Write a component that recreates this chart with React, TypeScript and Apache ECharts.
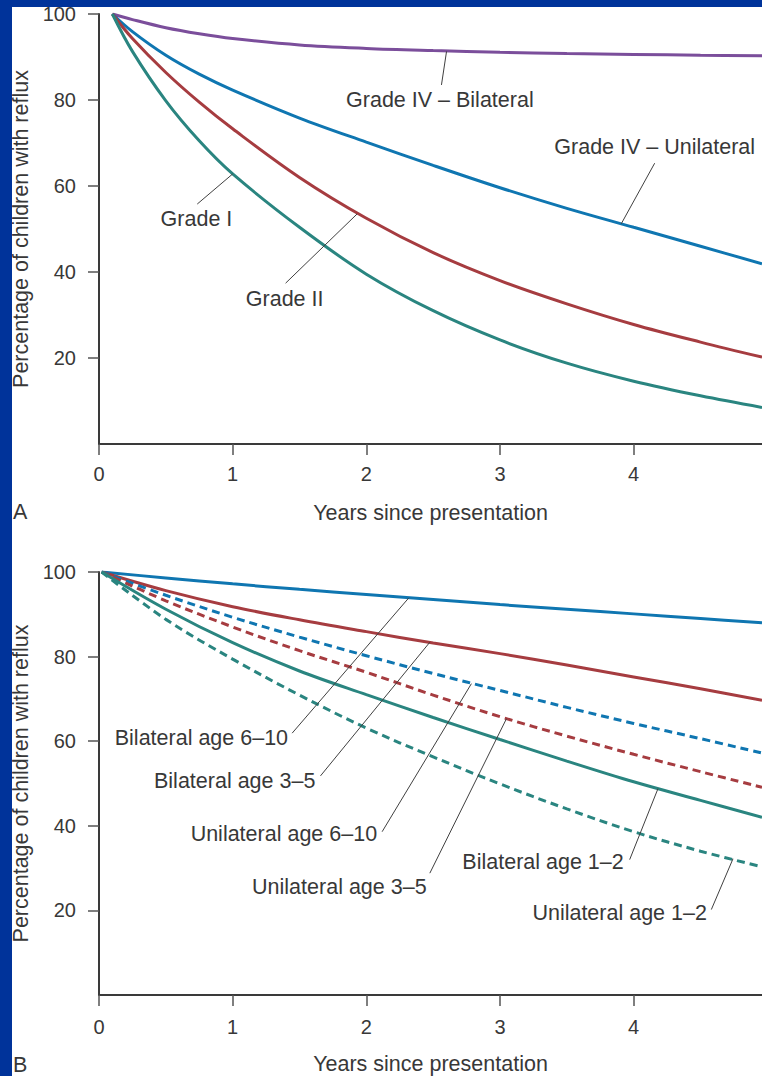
import React, { useEffect, useRef } from "react";
import * as echarts from "echarts";

// ---------- Panel A data ----------
const yearsA = [0.1, 0.25, 0.5, 0.75, 1, 1.5, 2, 2.5, 3, 3.5, 4, 4.5, 4.96];
const gradeIVBilateral = [100, 98.7, 96.8, 95.4, 94.3, 92.8, 92.0, 91.5, 91.1, 90.8, 90.6, 90.4, 90.3];
const gradeIVUnilateral = [100, 95.9, 90.4, 86.0, 82.3, 75.8, 70.2, 64.8, 59.6, 54.8, 50.4, 46.0, 41.9];
const gradeII = [100, 94.3, 86.4, 79.5, 73.3, 62.0, 52.5, 44.5, 38.0, 32.6, 27.8, 23.7, 20.2];
const gradeI = [100, 91.3, 79.8, 70.5, 62.8, 50.4, 39.5, 31.0, 24.2, 18.8, 14.6, 11.2, 8.5];

// ---------- Panel B data ----------
const yearsB = [0.02, 0.5, 1, 1.5, 2, 2.5, 3, 3.5, 4, 4.5, 4.96];
const bilateral6to10 = [100, 98.6, 97.2, 95.9, 94.7, 93.5, 92.3, 91.2, 90.1, 89.0, 88.0];
const bilateral3to5 = [100, 95.6, 91.8, 88.7, 85.9, 83.2, 80.7, 78.0, 75.2, 72.4, 69.7];
const unilateral6to10 = [100, 94.5, 89.3, 84.6, 80.2, 76.0, 72.0, 68.0, 64.2, 60.6, 57.2];
const unilateral3to5 = [100, 93.2, 87.0, 81.4, 76.3, 70.9, 65.8, 61.2, 56.9, 52.8, 49.1];
const bilateral1to2 = [100, 91.2, 83.3, 76.6, 71.0, 65.6, 60.4, 55.3, 50.4, 46.0, 42.0];
const unilateral1to2 = [100, 88.8, 79.4, 70.9, 63.1, 56.3, 49.9, 44.0, 38.6, 34.0, 30.3];

// ---------- Axes ----------
const xTickValues = [0, 1, 2, 3, 4];
const yTickValues = [20, 40, 60, 80, 100];
const xMax = 4.96;
const xAxisTitle = "Years since presentation";
const yAxisTitle = "Percentage of children with reflux";

// ---------- Annotations (data coordinates: [years, percent]) ----------
const annotationsA = [
  { text: "Grade IV \u2013 Bilateral", at: [2.55, 79.9], from: [2.562, 83.5], to: [2.6, 91.3] },
  { text: "Grade IV \u2013 Unilateral", at: [4.157, 69.1], from: [4.157, 65.3], to: [3.907, 51.2] },
  { text: "Grade I", at: [0.729, 52.3], from: [0.735, 55.8], to: [1.0, 62.8] },
  { text: "Grade II", at: [1.389, 33.7], from: [1.396, 37.4], to: [1.931, 53.5] },
];
const annotationsB = [
  { text: "Bilateral age 6\u201310", at: [0.766, 60.7], from: [1.445, 61.9], to: [2.318, 93.9] },
  { text: "Bilateral age 3\u20135", at: [1.015, 50.6], from: [1.657, 51.8], to: [2.475, 83.4] },
  { text: "Unilateral age 6\u201310", at: [1.383, 38.0], from: [2.118, 38.6], to: [2.786, 73.6] },
  { text: "Unilateral age 3\u20135", at: [1.798, 25.6], from: [2.475, 28.8], to: [3.048, 65.3] },
  { text: "Bilateral age 1\u20132", at: [3.322, 31.5], from: [3.97, 32.0], to: [4.182, 48.8] },
  { text: "Unilateral age 1\u20132", at: [3.895, 19.3], from: [4.581, 20.2], to: [4.743, 32.2] },
];

const COLORS = {
  purple: "#7b4e9b",
  blue: "#0f76b1",
  red: "#a63c40",
  teal: "#2a8580",
  frame: "#00339a",
  text: "#383838",
  axis: "#3a3a3a",
};
const FONT = "'Liberation Sans', Arial, Helvetica, sans-serif";
const LABEL_SIZE = 21.5;

const pairs = (xs: number[], ys: number[]) => xs.map((x, i) => [x, ys[i]]);

function lineSeries(name: string, idx: number, xs: number[], ys: number[], color: string, dashed: boolean) {
  return {
    name,
    type: "line",
    xAxisIndex: idx,
    yAxisIndex: idx,
    data: pairs(xs, ys),
    showSymbol: false,
    symbol: "none",
    smooth: 0.35,
    lineStyle: { color, width: 3, type: dashed ? [8, 5] : "solid", cap: "butt" },
    silent: true,
    z: 3,
  };
}

function xAxisCfg(gridIndex: number, labelMargin: number) {
  return {
    type: "value",
    gridIndex,
    min: 0,
    max: xMax,
    interval: 1,
    name: xAxisTitle,
    nameLocation: "middle",
    nameGap: 58,
    nameTextStyle: { fontSize: LABEL_SIZE, color: COLORS.text, fontFamily: FONT },
    axisLine: { show: true, onZero: false, lineStyle: { color: COLORS.axis, width: 2 } },
    axisTick: { show: true, length: 11, customValues: xTickValues, lineStyle: { color: "#555", width: 1.5 } },
    axisLabel: {
      show: true,
      margin: labelMargin,
      fontSize: 20,
      color: COLORS.text,
      fontFamily: FONT,
      customValues: xTickValues,
      formatter: (v: number) => (Number.isInteger(v) ? String(v) : ""),
    },
    splitLine: { show: false },
  };
}

function yAxisCfg(gridIndex: number) {
  return {
    type: "value",
    gridIndex,
    min: 0,
    max: 100,
    interval: 20,
    name: yAxisTitle,
    nameLocation: "middle",
    nameRotate: 90,
    nameGap: 62,
    nameTextStyle: { fontSize: LABEL_SIZE, color: COLORS.text, fontFamily: FONT },
    axisLine: { show: true, onZero: false, lineStyle: { color: COLORS.axis, width: 2 } },
    axisTick: { show: true, length: 11, customValues: yTickValues, lineStyle: { color: "#555", width: 1.5 } },
    axisLabel: {
      show: true,
      margin: 23,
      fontSize: 20,
      color: COLORS.text,
      fontFamily: FONT,
      customValues: yTickValues,
      formatter: (v: number) => (v === 0 ? "" : String(v)),
    },
    splitLine: { show: false },
  };
}

export default function App() {
  const ref = useRef<HTMLDivElement | null>(null);

  useEffect(() => {
    if (!ref.current) return;
    const chart = echarts.init(ref.current, undefined, { renderer: "svg" });
    chart.setOption({
      animation: false,
      backgroundColor: "#ffffff",
      textStyle: { fontFamily: FONT },
      grid: [
        { left: 99, top: 14, right: 0, height: 430, containLabel: false },
        { left: 99, top: 572, right: 0, height: 428, containLabel: false },
      ],
      xAxis: [xAxisCfg(0, 20), xAxisCfg(1, 22)],
      yAxis: [yAxisCfg(0), yAxisCfg(1)],
      series: [
        lineSeries("Grade IV \u2013 Bilateral", 0, yearsA, gradeIVBilateral, COLORS.purple, false),
        lineSeries("Grade IV \u2013 Unilateral", 0, yearsA, gradeIVUnilateral, COLORS.blue, false),
        lineSeries("Grade II", 0, yearsA, gradeII, COLORS.red, false),
        lineSeries("Grade I", 0, yearsA, gradeI, COLORS.teal, false),
        lineSeries("Bilateral age 6\u201310", 1, yearsB, bilateral6to10, COLORS.blue, false),
        lineSeries("Bilateral age 3\u20135", 1, yearsB, bilateral3to5, COLORS.red, false),
        lineSeries("Unilateral age 6\u201310", 1, yearsB, unilateral6to10, COLORS.blue, true),
        lineSeries("Unilateral age 3\u20135", 1, yearsB, unilateral3to5, COLORS.red, true),
        lineSeries("Bilateral age 1\u20132", 1, yearsB, bilateral1to2, COLORS.teal, false),
        lineSeries("Unilateral age 1\u20132", 1, yearsB, unilateral1to2, COLORS.teal, true),
      ],
    });

    const elements: any[] = [];
    const addAnnotations = (list: typeof annotationsA, gridIndex: number) => {
      list.forEach((a) => {
        const p = chart.convertToPixel({ gridIndex }, a.at) as number[];
        const f = chart.convertToPixel({ gridIndex }, a.from) as number[];
        const t = chart.convertToPixel({ gridIndex }, a.to) as number[];
        elements.push({
          type: "line",
          z: 10,
          silent: true,
          shape: { x1: f[0], y1: f[1], x2: t[0], y2: t[1] },
          style: { stroke: "#404040", lineWidth: 1 },
        });
        elements.push({
          type: "text",
          z: 11,
          silent: true,
          x: p[0],
          y: p[1],
          style: {
            text: a.text,
            fill: COLORS.text,
            font: `${LABEL_SIZE}px ${FONT}`,
            align: "center",
            verticalAlign: "middle",
            textAlign: "center",
            textVerticalAlign: "middle",
          },
        });
      });
    };
    addAnnotations(annotationsA, 0);
    addAnnotations(annotationsB, 1);

    // panel letters
    elements.push({
      type: "text",
      z: 11,
      silent: true,
      x: 13,
      y: 512,
      style: { text: "A", fill: COLORS.text, font: `${LABEL_SIZE}px ${FONT}`, align: "left", verticalAlign: "middle" },
    });
    elements.push({
      type: "text",
      z: 11,
      silent: true,
      x: 13,
      y: 1065,
      style: { text: "B", fill: COLORS.text, font: `${LABEL_SIZE}px ${FONT}`, align: "left", verticalAlign: "middle" },
    });
    // blue frame
    elements.push({
      type: "rect",
      z: 100,
      silent: true,
      shape: { x: 0, y: 0, width: 12, height: 1076 },
      style: { fill: COLORS.frame },
    });
    elements.push({
      type: "rect",
      z: 100,
      silent: true,
      shape: { x: 0, y: 0, width: 762, height: 7 },
      style: { fill: COLORS.frame },
    });

    chart.setOption({ graphic: elements });

    return () => {
      chart.dispose();
    };
  }, []);

  return (
    <div
      ref={ref}
      style={{ position: "fixed", left: 0, top: 0, width: 762, height: 1076, background: "#fff" }}
    />
  );
}
